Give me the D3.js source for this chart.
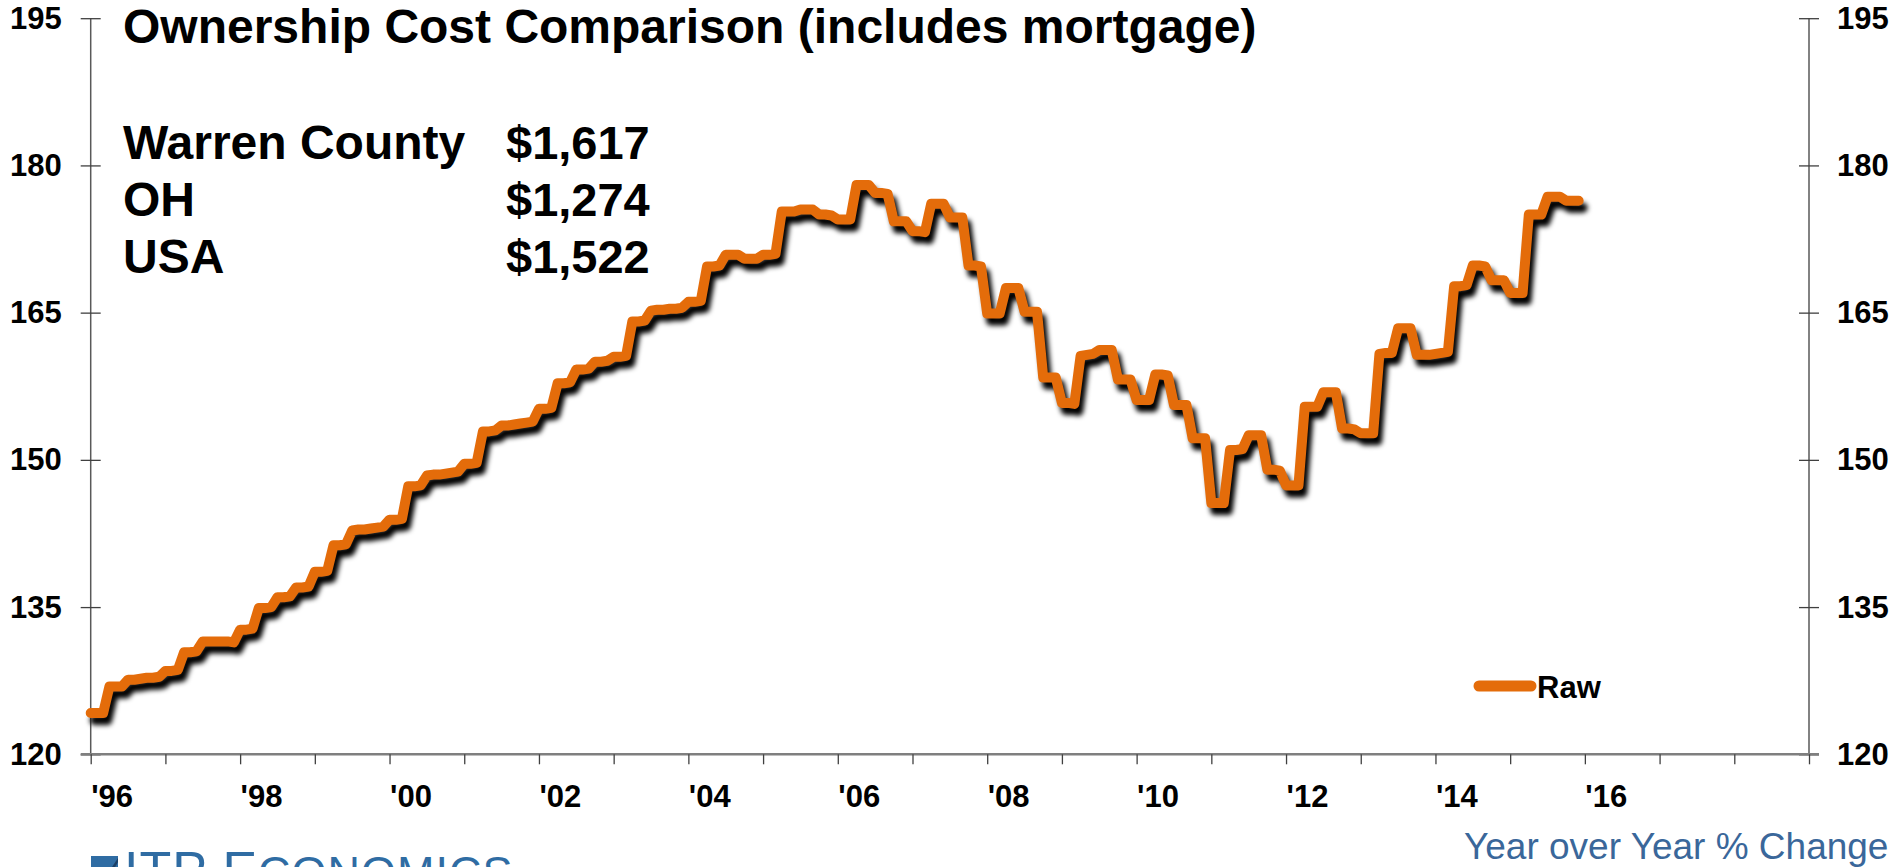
<!DOCTYPE html>
<html>
<head>
<meta charset="utf-8">
<script src="https://cdn.jsdelivr.net/npm/d3@7"></script>
<style>
  html, body { margin: 0; padding: 0; background: #fff; overflow: hidden; }
  svg { display: block; }
  text { font-family: "Liberation Sans", Arial, sans-serif; }
</style>
</head>
<body>
<svg id="chart" width="1897" height="867"></svg>
<script>
// ---------------- data ----------------
const startYear = 1996;
// Monthly ownership cost index, Jan 1996 - Dec 2015
const raw1996 = [124.2,124.2,124.2,126.9,126.9,126.9,127.6,127.6,127.7,127.8,127.8,127.9];
const raw1997 = [128.5,128.5,128.6,130.4,130.4,130.5,131.5,131.5,131.5,131.5,131.5,131.4];
const raw1998 = [132.7,132.7,132.8,134.9,134.9,135.0,136.0,136.0,136.1,137.0,137.0,137.1];
const raw1999 = [138.6,138.6,138.7,141.3,141.3,141.4,142.8,142.9,142.9,143.0,143.1,143.2];
const raw2000 = [143.9,143.9,144.0,147.3,147.3,147.4,148.4,148.5,148.5,148.6,148.7,148.8];
const raw2001 = [149.6,149.6,149.7,152.9,152.9,153.0,153.5,153.5,153.6,153.7,153.8,153.9];
const raw2002 = [155.2,155.2,155.3,157.8,157.8,157.9,159.2,159.2,159.3,160.0,160.0,160.1];
const raw2003 = [160.5,160.5,160.6,164.1,164.1,164.2,165.2,165.3,165.3,165.4,165.4,165.5];
const raw2004 = [166.1,166.1,166.2,169.7,169.7,169.8,170.9,170.9,170.9,170.5,170.5,170.5];
const raw2005 = [170.9,170.9,171.0,175.3,175.3,175.3,175.5,175.5,175.5,175.0,175.0,174.9];
const raw2006 = [174.5,174.5,174.5,178.0,178.0,178.0,177.2,177.2,177.1,174.3,174.3,174.3];
const raw2007 = [173.3,173.3,173.2,176.1,176.1,176.1,174.7,174.7,174.7,169.8,169.8,169.7];
const raw2008 = [164.9,164.9,164.9,167.5,167.5,167.5,165.1,165.1,165.1,158.4,158.4,158.4];
const raw2009 = [155.8,155.8,155.7,160.6,160.7,160.8,161.2,161.2,161.2,158.2,158.2,158.2];
const raw2010 = [156.1,156.1,156.1,158.7,158.7,158.6,155.6,155.6,155.6,152.2,152.2,152.2];
const raw2011 = [145.6,145.6,145.6,151.0,151.0,151.1,152.5,152.5,152.5,149.0,149.0,148.9];
const raw2012 = [147.4,147.4,147.4,155.4,155.4,155.4,156.9,156.9,156.9,153.2,153.2,153.1];
const raw2013 = [152.7,152.7,152.7,160.8,160.9,160.9,163.4,163.4,163.4,160.7,160.7,160.7];
const raw2014 = [160.8,160.9,161.0,167.7,167.7,167.8,169.8,169.8,169.7,168.3,168.3,168.3];
const raw2015 = [167.0,167.0,167.0,175.0,175.0,175.0,176.8,176.8,176.8,176.4,176.4,176.4];

const rawValues = [].concat(raw1996, raw1997, raw1998, raw1999, raw2000, raw2001, raw2002,
  raw2003, raw2004, raw2005, raw2006, raw2007, raw2008, raw2009, raw2010, raw2011, raw2012,
  raw2013, raw2014, raw2015);

const yTicks = [120, 135, 150, 165, 180, 195];
const xTickYears = d3.range(1996, 2020);
const xTickLabels = ["'96","'98","'00","'02","'04","'06","'08","'10","'12","'14","'16"];
const labelYears = [1996,1998,2000,2002,2004,2006,2008,2010,2012,2014,2016];

const titleText = "Ownership Cost Comparison (includes mortgage)";
const regionNames = ["Warren County", "OH", "USA"];
const regionCosts = ["$1,617", "$1,274", "$1,522"];
const legendLabel = "Raw";
const footerText = "Year over Year % Change";

// ---------------- layout ----------------
const svg = d3.select("#chart");
const plotL = 90.7, plotR = 1809, plotT = 18.2, plotB = 754.3;

const x = d3.scaleLinear().domain([1996, 2019]).range([plotL, plotR]);
const y = d3.scaleLinear().domain([120, 195]).range([plotB, plotT]);

const defs = svg.append("defs");
const f = defs.append("filter").attr("id", "blur")
  .attr("filterUnits", "userSpaceOnUse")
  .attr("x", 0).attr("y", 0).attr("width", 1897).attr("height", 867);
f.append("feGaussianBlur").attr("stdDeviation", 2.6);

const FONT = "Liberation Sans, Arial, sans-serif";

// Left axis
const yLeft = svg.append("g").attr("transform", `translate(${plotL},0)`)
  .call(d3.axisLeft(y).tickValues(yTicks).tickSize(10).tickPadding(19).tickFormat(d3.format("d")));
yLeft.select(".domain").attr("stroke", "#595959").attr("stroke-width", 1.5).attr("d", `M0,${plotB}V${plotT}`);
yLeft.selectAll(".tick line").attr("x1", 10).attr("x2", -10).attr("stroke", "#404040").attr("stroke-width", 1.3);
yLeft.selectAll(".tick text").attr("font-size", 31).attr("font-weight", "bold").attr("fill", "#000")
  .attr("font-family", FONT);

// Right axis
const yRight = svg.append("g").attr("transform", `translate(${plotR},0)`)
  .call(d3.axisRight(y).tickValues(yTicks).tickSize(10).tickPadding(18).tickFormat(d3.format("d")));
yRight.select(".domain").attr("stroke", "#595959").attr("stroke-width", 1.5).attr("d", `M0,${plotB}V${plotT}`);
yRight.selectAll(".tick line").attr("x1", -10).attr("x2", 10).attr("stroke", "#404040").attr("stroke-width", 1.3);
yRight.selectAll(".tick text").attr("font-size", 31).attr("font-weight", "bold").attr("fill", "#000")
  .attr("font-family", FONT);

// Bottom axis
const xAxis = svg.append("g").attr("transform", `translate(0,${plotB})`)
  .call(d3.axisBottom(x).tickValues(xTickYears).tickSize(10).tickPadding(0)
    .tickFormat(d => { const i = labelYears.indexOf(d); return i >= 0 ? xTickLabels[i] : ""; }));
xAxis.select(".domain").attr("stroke", "#7f7f7f").attr("stroke-width", 2.5)
  .attr("d", `M${plotL - 10},0H${plotR + 10}`);
xAxis.selectAll(".tick line").attr("stroke", "#404040").attr("stroke-width", 1.3);
xAxis.selectAll(".tick text").attr("font-size", 31).attr("font-weight", "bold").attr("fill", "#000")
  .attr("text-anchor", "start").attr("dy", null).attr("y", 53)
  .attr("font-family", FONT);

// Line with drop shadow
const line = d3.line()
  .x((d, i) => x(startYear + i / 12))
  .y(d => y(d));

svg.append("path").datum(rawValues)
  .attr("d", line)
  .attr("transform", "translate(4,7)")
  .attr("fill", "none")
  .attr("stroke", "#000")
  .attr("stroke-width", 10)
  .attr("stroke-linejoin", "round")
  .attr("stroke-linecap", "round")
  .attr("filter", "url(#blur)");

svg.append("path").datum(rawValues)
  .attr("d", line)
  .attr("fill", "none")
  .attr("stroke", "#E46C0A")
  .attr("stroke-width", 10)
  .attr("stroke-linejoin", "round")
  .attr("stroke-linecap", "round");

// Title & annotations
svg.append("text").attr("x", 123).attr("y", 43).attr("font-size", 48).attr("font-weight", "bold")
  .attr("fill", "#000").text(titleText);

const rowBaselines = [159, 216, 273];
regionNames.forEach((n, i) => {
  svg.append("text").attr("x", 123).attr("y", rowBaselines[i]).attr("font-size", 48)
    .attr("font-weight", "bold").attr("fill", "#000").text(n);
  svg.append("text").attr("x", 506).attr("y", rowBaselines[i]).attr("font-size", 47)
    .attr("font-weight", "bold").attr("fill", "#000").text(regionCosts[i]);
});

// Legend
svg.append("line").attr("x1", 1479).attr("x2", 1531).attr("y1", 686).attr("y2", 686)
  .attr("stroke", "#E46C0A").attr("stroke-width", 11).attr("stroke-linecap", "round");
svg.append("text").attr("x", 1537).attr("y", 698).attr("font-size", 31).attr("font-weight", "bold")
  .attr("fill", "#000").text(legendLabel);

// Footer
svg.append("text").attr("x", 1464).attr("y", 859).attr("font-size", 37)
  .attr("fill", "#3A679A").text(footerText);

// Logo (partially visible at bottom edge)
const logo = svg.append("g");
logo.append("rect").attr("x", 91).attr("y", 856).attr("width", 27).attr("height", 20).attr("fill", "#2F6CA3");
logo.append("path").attr("d", "M106,876 L118,858 L118,862 L110,876 Z").attr("fill", "#1B3F66");
const logoText = logo.append("text").attr("x", 124).attr("y", 888)
  .attr("font-family", "Liberation Serif, Times New Roman, serif")
  .attr("font-size", 52).attr("fill", "#2F6CA3").attr("letter-spacing", 1);
logoText.append("tspan").text("ITP E");
logoText.append("tspan").attr("font-size", 45).text("CONOMICS");
</script>
</body>
</html>
